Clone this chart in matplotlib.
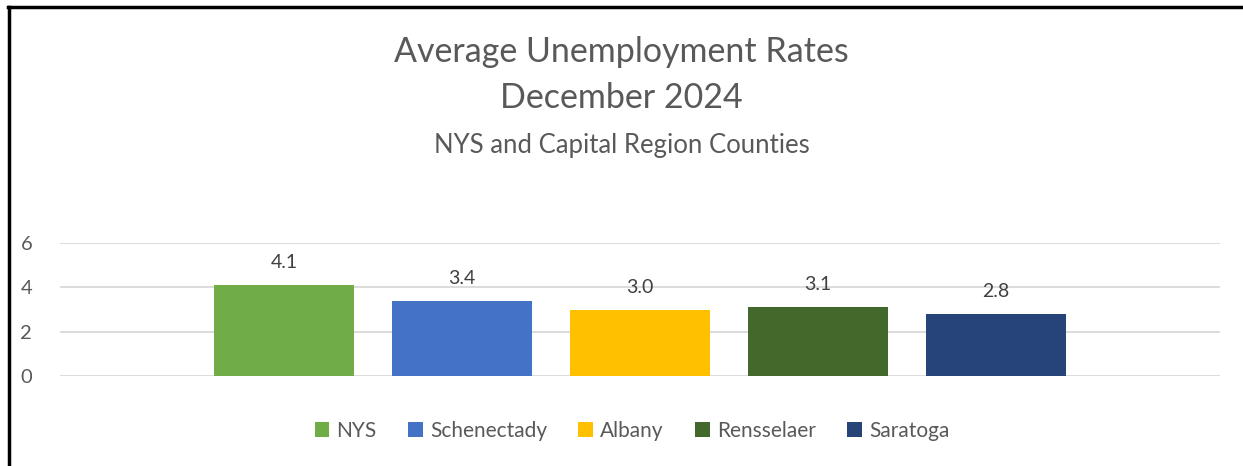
import matplotlib
matplotlib.use("Agg")
import matplotlib.pyplot as plt
from matplotlib.lines import Line2D
from matplotlib.patches import Patch

# data
series = ["NYS", "Schenectady", "Albany", "Rensselaer", "Saratoga"]
rates = [4.1, 3.4, 3.0, 3.1, 2.8]
colors = ["#70AD47", "#4472C4", "#FFC000", "#43682B", "#264478"]
yticks = [0, 2, 4, 6]

plt.rcParams["font.family"] = ["Lato", "DejaVu Sans"]
txt = "#595959"

W, H = 1243, 466
fig = plt.figure(figsize=(W / 100, H / 100), dpi=100)
ax = fig.add_axes([60 / W, 1 - 376 / H, 1160 / W, 133 / H])

x = list(range(len(series)))
ax.bar(x, rates, width=0.79, color=colors, zorder=3)
for xi, v in zip(x, rates):
    ax.annotate(f"{v:.1f}", (xi, v), textcoords="offset points", xytext=(0, 10),
                ha="center", va="bottom", fontsize=14, color="#404040")

ax.set_ylim(0, 6)
ax.set_xlim(2 - 3.26, 2 + 3.26)
ax.set_yticks(yticks)
ax.set_xticks([])
ax.tick_params(axis="y", length=0, labelsize=14.5, labelcolor=txt, pad=20)
ax.grid(axis="y", color="#D9D9D9", linewidth=1.3, zorder=0)
for s in ax.spines.values():
    s.set_visible(False)

fig.text(0.5, 1 - 52 / H, "Average Unemployment Rates", ha="center", va="center",
         fontsize=24.5, color=txt)
fig.text(0.5, 1 - 98 / H, "December 2024", ha="center", va="center",
         fontsize=24.5, color=txt)
fig.text(0.5, 1 - 145 / H, "NYS and Capital Region Counties", ha="center", va="center",
         fontsize=18.5, color=txt)

handles = [Patch(facecolor=c, label=s) for c, s in zip(colors, series)]
fig.legend(handles=handles, loc="center", bbox_to_anchor=(632 / W, 1 - 431 / H),
           ncol=5, frameon=False, fontsize=15, handlelength=0.7, handleheight=0.7,
           handletextpad=0.35, columnspacing=1.5, labelcolor=txt)

# partial frame (left and top edges of the screenshot border)
fig.add_artist(Line2D([9 / W, 9 / W], [0, 1 - 7 / H], transform=fig.transFigure,
                      color="black", linewidth=2.5))
fig.add_artist(Line2D([8 / W, 1], [1 - 7 / H, 1 - 7 / H], transform=fig.transFigure,
                      color="black", linewidth=2.5))

fig.savefig("out.png", dpi=100)
